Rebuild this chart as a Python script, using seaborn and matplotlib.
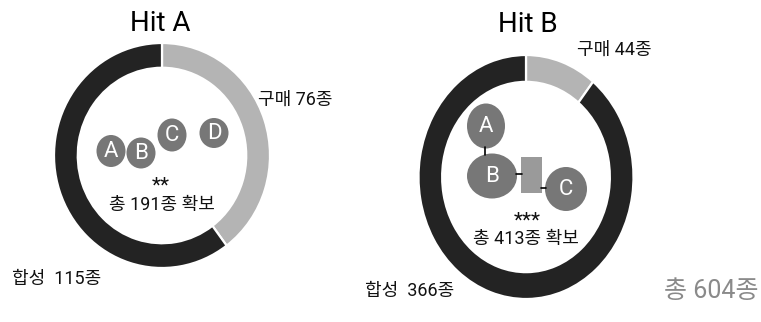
import matplotlib
matplotlib.use("Agg")
import matplotlib.pyplot as plt
from matplotlib.patches import Ellipse, Rectangle
import seaborn as sns

# --- data -------------------------------------------------------------
hit_titles = ["Hit A", "Hit B"]
segment_names = ["구매", "합성"]
purchased = [76, 44]
synthesized = [115, 366]
secured_totals = [191, 413]
significance = ["**", "***"]
grand_total = 604

# --- style --------------------------------------------------------------
sns.set_style("white")
plt.rcParams["font.family"] = ["Roboto", "Noto Sans CJK KR"]

DARK = "#232323"
LIGHT = "#b4b4b4"
BUBBLE = "#777777"
LINK = "#9a9a9a"

W, H = 761, 322
fig = plt.figure(figsize=(W / 100, H / 100), dpi=100)

# donut frames in pixels: centre x, centre y, radius x, radius y
donut_frames = [(162, 155.5, 108, 112.5), (526, 177, 107.5, 122)]

for (cx, cy, rx, ry), buy, syn in zip(donut_frames, purchased, synthesized):
    ax = fig.add_axes([(cx - rx) / W, (H - cy - ry) / H, 2 * rx / W, 2 * ry / H])
    ax.pie([buy, syn], colors=[LIGHT, DARK], startangle=90, counterclock=False,
           radius=1.0, wedgeprops=dict(width=0.22, edgecolor="white", linewidth=1.6))
    ax.set_aspect("auto")
    ax.set_xlim(-1, 1)
    ax.set_ylim(-1, 1)
    ax.axis("off")

# overlay in pixel coordinates for text and the molecule sketches
ov = fig.add_axes([0, 0, 1, 1], zorder=5)
ov.set_xlim(0, W)
ov.set_ylim(H, 0)
ov.axis("off")
ov.patch.set_alpha(0)

title_pos = [(160, 23), (528, 24)]
buy_label_pos = [(258, 100), (577, 50)]
syn_label_pos = [(12, 279), (365, 291)]
star_pos = [(161, 186), (527, 221)]
total_pos = [(162, 205), (526, 239)]

for i in range(2):
    ov.text(*title_pos[i], hit_titles[i], ha="center", va="center", fontsize=20, color="black")
    ov.text(*buy_label_pos[i], f"{segment_names[0]} {purchased[i]}종", ha="left", va="center",
            fontsize=13, color="#111111")
    ov.text(*syn_label_pos[i], f"{segment_names[1]}  {synthesized[i]}종", ha="left", va="center",
            fontsize=13, color="#111111")
    ov.text(*star_pos[i], significance[i], ha="center", va="center", fontsize=15, color="#111111")
    ov.text(*total_pos[i], f"총 {secured_totals[i]}종 확보", ha="center", va="center",
            fontsize=13, color="#111111")

ov.text(758, 291, f"총 {grand_total}종", ha="right", va="center", fontsize=18, color="#8a8a8a")

# Hit A fragments: four separate bubbles
frag_a = [("A", 111, 151, 29, 32), ("B", 141, 153, 29, 31), ("C", 172, 135, 29, 33), ("D", 214, 133, 29, 30)]
for label, x, y, w, h in frag_a:
    ov.add_patch(Ellipse((x, y), w, h, facecolor=BUBBLE, edgecolor="none"))
    ov.text(x, y + 0.5, label, ha="center", va="center", fontsize=16, color="white")

# Hit B fragments: linked bubbles and a linker block
ov.plot([485, 485], [147, 155], color="black", lw=1.2)
ov.plot([516, 522], [174, 174], color="black", lw=1.2)
ov.plot([541, 546], [188, 188], color="black", lw=1.2)
ov.add_patch(Rectangle((521, 157), 21, 36, facecolor=LINK, edgecolor="none"))
frag_b = [("A", 486, 126, 38, 45), ("B", 492, 176, 50, 45), ("C", 566, 189, 42, 44)]
for label, x, y, w, h in frag_b:
    ov.add_patch(Ellipse((x, y), w, h, facecolor=BUBBLE, edgecolor="none"))
    ov.text(x, y + 0.5, label, ha="center", va="center", fontsize=16, color="white")

fig.savefig("out.png", dpi=100)
